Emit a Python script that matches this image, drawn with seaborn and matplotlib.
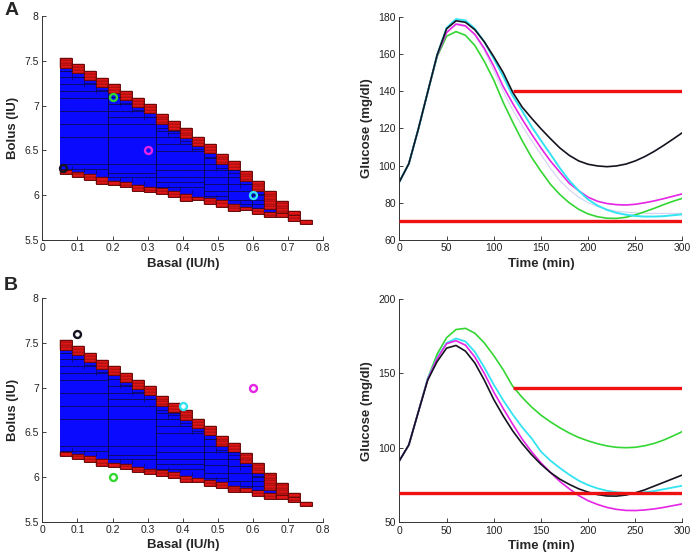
import matplotlib
matplotlib.use("Agg")
import matplotlib.pyplot as plt
import seaborn as sns

sns.set_style("ticks")
plt.rcParams["font.family"] = ["Liberation Sans", "DejaVu Sans"]

# ---- feasible (basal, bolus) region, one column per basal step ----
col_left = [0.050, 0.084, 0.118, 0.152, 0.187, 0.221, 0.255, 0.289, 0.324, 0.358,
            0.392, 0.426, 0.460, 0.495, 0.529, 0.563, 0.597, 0.631, 0.665, 0.699, 0.733]
col_width = 0.0342
upper_top = [7.535, 7.461, 7.386, 7.312, 7.237, 7.167, 7.089, 7.014, 6.903, 6.828,
             6.754, 6.653, 6.568, 6.456, 6.382, 6.270, 6.158, 6.047, 5.935, 5.824, 5.723]
upper_bot = [7.423, 7.361, 7.286, 7.212, 7.137, 7.067, 6.989, 6.914, 6.791, 6.728,
             6.642, 6.553, 6.468, 6.344, 6.282, 6.158, 6.046, 5.850, 5.798, 5.779, 5.723]
lower_top = [6.281, 6.263, 6.237, 6.199, 6.158, 6.151, 6.114, 6.088, 6.077, 6.051,
             6.013, 5.984, 5.965, 5.946, 5.902, 5.872, 5.853, 5.816, 5.798, 5.779, 5.723]
lower_bot = [6.237, 6.207, 6.170, 6.125, 6.114, 6.088, 6.051, 6.039, 6.013, 5.984,
             5.939, 5.946, 5.902, 5.872, 5.827, 5.835, 5.790, 5.753, 5.753, 5.716, 5.679]
group_edges = [0.050, 0.187, 0.324, 0.460, 0.529, 0.597, 0.665]
blue_cuts = [
    [6.29, 6.348, 6.646, 6.795, 6.943, 7.09, 7.166, 7.24, 7.316, 7.39],
    [6.207, 6.25, 6.348, 6.646, 6.795, 6.869, 6.943, 7.018],
    [6.095, 6.151, 6.207, 6.281, 6.348, 6.497, 6.571, 6.646, 6.72],
    [5.99, 6.05, 6.13, 6.207, 6.281, 6.348, 6.42],
    [5.90, 5.95, 6.05, 6.12, 6.20, 6.28],
    [5.86, 5.90, 5.95, 6.0],
]

# ---- tested settings ----
a_basal = [0.06, 0.2, 0.3, 0.6]
a_bolus = [6.3, 7.1, 6.5, 6.0]
a_colors = ["black", "green", "magenta", "cyan"]
b_basal = [0.1, 0.2, 0.6, 0.4]
b_bolus = [7.6, 6.0, 7.0, 6.8]
b_colors = ["black", "green", "magenta", "cyan"]

# ---- glucose traces ----
time_min = [0, 10, 20, 30, 40, 50, 60, 70, 80, 90, 100, 110, 120, 130, 140, 150,
            160, 170, 180, 190, 200, 210, 220, 230, 240, 250, 260, 270, 280, 290, 300]

a_black = [91.3, 101, 119.5, 139.5, 159.5, 173.5, 177.8, 177, 173, 166.5, 158.5, 150, 139.5, 131.5, 125.5, 119.8,
           114.5, 109.5, 105.5, 102.5, 100.7, 99.8, 99.4, 99.8, 100.8, 102.5, 104.8, 107.6, 110.8, 114.2, 117.7]
a_cyan = [91.3, 101, 119.5, 139.5, 159.5, 174, 178.7, 178, 173.5, 166.5, 157.5, 148, 137.5, 129.5, 121, 113.5,
          106.2, 98.7, 92, 86.5, 81.8, 78.5, 76.2, 74.6, 73.6, 72.9, 72.6, 72.6, 72.8, 73.3, 73.8]
a_magenta = [91.3, 101, 119.5, 139.5, 159, 171.5, 176, 175, 170.5, 163, 153.5, 142.5, 133.5, 125, 117, 109.5,
             102.5, 96.5, 90.5, 86.5, 83, 80.8, 79.6, 79, 78.8, 79.2, 80, 81, 82.2, 83.5, 84.8]
a_lavender = [91.3, 101, 119.5, 139.5, 159, 171.5, 176.5, 175.5, 170, 162, 151, 140, 130, 121.5, 113.5, 106,
              98.5, 92, 87, 83, 80, 78, 76.5, 75.5, 75, 74.6, 74.4, 74.3, 74.3, 74.3, 74.4]
a_green = [91.3, 101, 119.5, 139.5, 158.5, 169.5, 172, 170, 164.5, 156, 146, 134, 123.5, 113.5, 104.5, 97,
           90, 84.5, 80, 76.5, 74, 72.5, 71.7, 71.6, 72.2, 73.5, 75.2, 77, 79, 80.8, 82.4]

b_green = [91.4, 102, 124, 146.5, 163, 174, 179.5, 180.3, 177, 170.5, 162, 152.5, 141.5, 134, 127.5, 122,
           117.5, 113.5, 110, 107, 104.7, 102.8, 101.3, 100.4, 100.1, 100.4, 101.4, 103, 105.2, 108, 111]
b_cyan = [91.4, 102, 124, 146.5, 160.5, 170.5, 173.5, 171.5, 164.5, 154, 142.5, 132, 122.5, 114, 106.5, 97.5,
          91.5, 86.5, 82, 78, 75, 72.8, 71.2, 70.2, 69.7, 69.7, 70.2, 71, 72.2, 73.4, 74.6]
b_magenta = [91.4, 102, 124, 146, 160, 170, 172, 169, 161, 150, 137.5, 126.5, 116, 106, 97.5, 90,
             83.5, 77.5, 72.5, 68, 64.5, 62, 60, 58.7, 58, 57.9, 58.3, 59, 60, 61.2, 62.4]
b_black = [91.4, 102, 124, 145.5, 158, 167, 168.8, 165, 157, 145.5, 132.5, 121.5, 111.5, 103, 95.5, 89,
           83.5, 79, 75.5, 72.5, 70.3, 68.6, 67.7, 67.6, 68.3, 69.8, 71.8, 74.3, 76.8, 79.3, 81.8]

hyper_level, hypo_level, hyper_start = 140, 70, 120

palette = {"black": "#141420", "green": "#33d633", "magenta": "#e524e5",
           "cyan": "#33e3f2", "lavender": "#d2d2f2"}
BLUE, RED, EDGE, RED_EDGE = "#0a0aff", "#e01616", "#0b0b55", "#6a0808"


def draw_region(ax):
    for i, x0 in enumerate(col_left):
        lo, hi = lower_top[i], upper_bot[i]
        if hi - lo > 0.002:
            ax.bar(x0, hi - lo, width=col_width, bottom=lo, align="edge",
                   color=BLUE, linewidth=0)
        for bot, top in [(upper_bot[i], upper_top[i]), (lower_bot[i], lower_top[i])]:
            if top - bot < 0.005:
                continue
            n = max(1, round((top - bot) / 0.03))
            h = (top - bot) / n
            ax.bar([x0] * n, [h] * n, width=col_width,
                   bottom=[bot + k * h for k in range(n)], align="edge",
                   color=RED, edgecolor=RED_EDGE, linewidth=0.3)
            ax.bar(x0, top - bot, width=col_width, bottom=bot, align="edge",
                   fill=False, edgecolor=RED_EDGE, linewidth=0.7)
    # inner box edges of the blue paving
    for g in range(len(group_edges) - 1):
        a, b = group_edges[g], group_edges[g + 1]
        for i, x0 in enumerate(col_left):
            if a - 1e-3 <= x0 < b - 1e-3:
                for y in blue_cuts[g]:
                    if lower_top[i] < y < upper_bot[i]:
                        ax.hlines(y, x0, x0 + col_width, color=EDGE, lw=0.6)
                if upper_bot[i] - lower_top[i] > 0.08:
                    ax.hlines(upper_bot[i] - 0.037, x0, x0 + col_width, color=EDGE, lw=0.5)
    for i in range(1, len(col_left)):
        x = col_left[i]
        lo = max(lower_top[i - 1], lower_top[i])
        hi = min(upper_bot[i - 1], upper_bot[i])
        if hi <= lo:
            continue
        if any(abs(x - e) < 2e-3 for e in group_edges):
            ax.vlines(x, lo, hi, color=EDGE, lw=0.7)
        else:
            ax.vlines(x, max(lo, hi - 0.075), hi, color=EDGE, lw=0.5)
            ax.vlines(x, lo, min(hi, lo + 0.04), color=EDGE, lw=0.5)


def style_axes(ax, xticks, xlabels, yticks, ylabels, xlabel, ylabel):
    sns.despine(ax=ax)
    ax.set_xticks(xticks)
    ax.set_xticklabels(xlabels)
    ax.set_yticks(yticks)
    ax.set_yticklabels(ylabels)
    ax.set_xlim(xticks[0], xticks[-1])
    ax.set_ylim(yticks[0], yticks[-1])
    ax.tick_params(direction="in", length=3, width=0.6, labelsize=7.5,
                   colors="#222222", pad=2.5)
    for side in ["left", "bottom"]:
        ax.spines[side].set_linewidth(0.7)
        ax.spines[side].set_color("#333333")
    ax.set_xlabel(xlabel, fontsize=9.5, fontweight="bold", labelpad=3)
    ax.set_ylabel(ylabel, fontsize=9.5, fontweight="bold", labelpad=4)


def region_panel(ax, basal, bolus, colors):
    draw_region(ax)
    for x, y, c in zip(basal, bolus, colors):
        ax.plot(x, y, "o", mfc="none", mec=palette[c], mew=1.7, ms=5.0, zorder=5)
    style_axes(ax, [0, 0.1, 0.2, 0.3, 0.4, 0.5, 0.6, 0.7, 0.8],
               ["0", "0.1", "0.2", "0.3", "0.4", "0.5", "0.6", "0.7", "0.8"],
               [5.5, 6, 6.5, 7, 7.5, 8], ["5.5", "6", "6.5", "7", "7.5", "8"],
               "Basal (IU/h)", "Bolus (IU)")


def glucose_panel(ax, curves, yticks):
    for vals, c, lw in curves:
        sns.lineplot(x=time_min, y=vals, color=palette[c], linewidth=lw, ax=ax)
    ax.plot([hyper_start, time_min[-1]], [hyper_level, hyper_level],
            color="#ee1111", lw=2.4, solid_capstyle="butt", zorder=4)
    ax.plot([time_min[0], time_min[-1]], [hypo_level, hypo_level],
            color="#ee1111", lw=2.4, solid_capstyle="butt", zorder=4)
    style_axes(ax, [0, 50, 100, 150, 200, 250, 300],
               ["0", "50", "100", "150", "200", "250", "300"],
               yticks, [str(v) for v in yticks], "Time (min)", "Glucose (mg/dl)")


fig = plt.figure(figsize=(6.91, 5.53), dpi=100)
ax_a1 = fig.add_axes([0.0612, 0.566, 0.4067, 0.405])
ax_a2 = fig.add_axes([0.578, 0.566, 0.4096, 0.4038])
ax_b1 = fig.add_axes([0.0612, 0.0566, 0.4067, 0.404])
ax_b2 = fig.add_axes([0.578, 0.0555, 0.4096, 0.4038])

region_panel(ax_a1, a_basal, a_bolus, a_colors)
region_panel(ax_b1, b_basal, b_bolus, b_colors)

glucose_panel(ax_a2, [(a_lavender, "lavender", 0.8), (a_green, "green", 1.2),
                      (a_magenta, "magenta", 1.2), (a_cyan, "cyan", 1.4),
                      (a_black, "black", 1.2)], [60, 80, 100, 120, 140, 160, 180])
glucose_panel(ax_b2, [(b_green, "green", 1.2), (b_cyan, "cyan", 1.3),
                      (b_magenta, "magenta", 1.2), (b_black, "black", 1.2)],
              [50, 100, 150, 200])

fig.text(0.006, 0.997, "A", fontsize=14, fontweight="bold", va="top", ha="left")
fig.text(0.006, 0.5, "B", fontsize=14, fontweight="bold", va="top", ha="left")

fig.savefig("out.png", dpi=100)
